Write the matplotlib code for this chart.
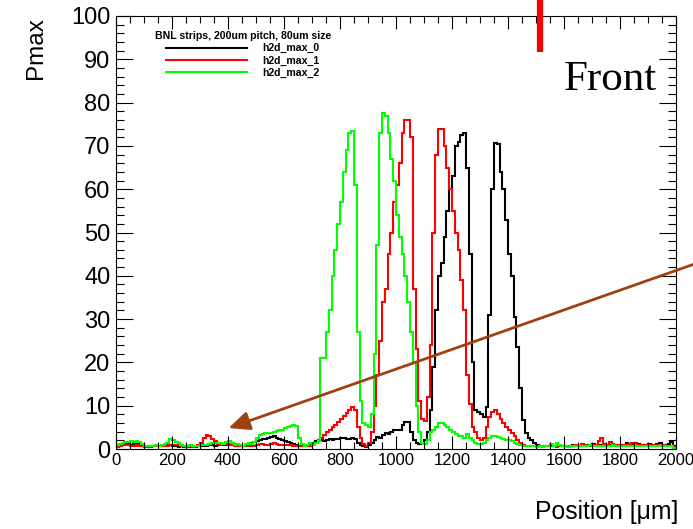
import numpy as np
import matplotlib
matplotlib.use('Agg')
import matplotlib.pyplot as plt
from matplotlib.lines import Line2D
from matplotlib.patches import FancyArrowPatch
from matplotlib.ticker import MultipleLocator

# histogram binning: 200 bins of 10 um
bin_edges = np.arange(0, 2001, 10)

h2d_max_0 = [
    0.5, 0.8, 1.2, 1.3, 1.2, 1.0, 1.2, 1.5, 1.2, 0.8,
    0.5, 0.6, 0.5, 0.6, 0.7, 0.8, 0.6, 0.9, 1.0, 0.9,
    0.8, 0.6, 0.5, 0.6, 0.5, 0.4, 0.5, 0.6, 0.5, 0.6,
    0.7, 0.6, 0.8, 0.9, 1.0, 0.8, 1.0, 1.2, 1.0, 0.9,
    1.1, 1.3, 1.0, 0.8, 0.6, 0.7, 0.8, 1.0, 1.3, 1.6,
    1.8, 2.0, 2.2, 2.4, 2.6, 2.8, 3.0, 2.5, 2.2, 2.0,
    1.8, 1.6, 1.5, 1.2, 1.0, 0.8, 0.6, 0.6, 0.8, 1.0,
    1.5, 1.8, 2.0, 2.1, 1.8, 2.0, 2.2, 2.0, 2.3, 2.4,
    2.5, 2.6, 2.4, 2.2, 2.5, 2.2, 1.5, 1.0, 0.6, 0.5,
    1.0, 1.4, 2.0, 2.8, 2.5, 3.2, 3.8, 3.5, 4.0, 4.4,
    4.4, 4.5, 5.5, 6.2, 6.2, 4.0, 2.0, 1.4, 1.2, 1.4,
    2.0, 4.0, 9.0, 19.0, 32.0, 40.0, 43.0, 49.0, 55.0, 60.0,
    63.0, 70.0, 71.0, 72.5, 73.0, 65.0, 45.0, 20.0, 9.0, 8.5,
    8.0, 7.5, 9.7, 31.0, 60.0, 70.7, 70.5, 64.0, 60.0, 53.0,
    45.0, 40.0, 30.5, 23.6, 14.0, 6.7, 3.7, 2.5, 2.0, 1.5,
    1.0, 0.8, 0.7, 0.6, 0.7, 0.8, 0.6, 0.7, 0.9, 0.8,
    0.7, 0.6, 0.8, 0.9, 0.7, 0.6, 0.8, 1.0, 0.9, 0.7,
    1.2, 1.0, 0.8, 0.9, 1.1, 0.8, 0.9, 1.2, 1.0, 0.8,
    0.9, 1.0, 1.3, 1.1, 1.2, 1.4, 1.1, 1.0, 0.9, 1.0,
    1.2, 1.0, 0.9, 1.1, 1.3, 1.0, 0.9, 1.2, 1.6, 0.8,
]

h2d_max_1 = [
    0.5, 0.8, 1.0, 0.9, 1.0, 0.8, 0.7, 1.0, 0.8, 0.6,
    0.5, 0.5, 0.6, 0.8, 0.7, 0.6, 0.8, 0.9, 0.8, 0.9,
    0.9, 1.0, 1.1, 0.8, 0.6, 0.5, 0.6, 0.5, 0.7, 0.9,
    1.5, 2.5, 3.2, 3.0, 2.2, 1.8, 1.2, 1.0, 1.2, 1.1,
    1.0, 0.9, 0.7, 0.6, 0.7, 0.8, 0.9, 0.7, 0.6, 0.8,
    1.0, 1.2, 1.1, 1.0, 1.0, 1.2, 1.3, 1.1, 1.0, 0.9,
    1.0, 1.0, 0.9, 0.8, 0.7, 0.6, 0.8, 0.7, 0.6, 0.8,
    1.0, 1.5, 2.0, 2.6, 3.2, 3.9, 4.4, 5.0, 5.5, 6.3,
    7.0, 7.6, 8.4, 9.0, 9.7, 9.0, 5.0, 2.5, 1.2, 0.8,
    1.5, 4.0, 10.0, 17.0, 25.0, 34.0, 37.0, 45.0, 50.0, 57.0,
    61.0, 66.0, 73.0, 76.0, 76.0, 72.0, 37.0, 23.0, 11.0, 7.0,
    6.5, 12.0, 24.0, 50.0, 68.0, 74.0, 74.0, 70.0, 65.0, 60.0,
    55.0, 50.0, 46.0, 39.0, 32.0, 17.0, 10.5, 5.0, 4.0, 2.5,
    2.0, 2.5, 5.0, 7.5, 8.5, 9.0, 8.0, 7.0, 6.0, 5.0,
    4.3, 3.7, 3.0, 2.0, 1.5, 1.0, 0.8, 0.7, 0.6, 0.6,
    0.5, 0.6, 0.5, 0.7, 0.6, 0.8, 0.6, 0.5, 0.7, 0.6,
    0.7, 0.8, 0.6, 0.7, 0.9, 0.8, 1.2, 1.0, 0.8, 0.9,
    1.0, 0.9, 1.8, 2.5, 1.2, 1.0, 1.6, 1.2, 0.9, 1.0,
    0.8, 0.9, 1.0, 1.2, 1.5, 1.5, 1.0, 0.9, 0.8, 1.0,
    0.9, 0.8, 1.0, 0.9, 0.8, 0.9, 0.7, 0.8, 0.6, 0.5,
]

h2d_max_2 = [
    1.0, 1.2, 1.5, 1.6, 1.6, 1.8, 1.7, 1.8, 1.6, 1.2,
    0.8, 0.6, 0.7, 0.8, 0.9, 0.8, 1.0, 1.2, 1.5, 2.2,
    2.0, 1.6, 1.4, 1.0, 0.8, 0.7, 0.9, 0.7, 0.6, 0.8,
    0.9, 1.0, 0.9, 1.2, 1.5, 1.3, 1.4, 1.5, 1.2, 1.6,
    1.8, 1.3, 1.0, 1.2, 0.9, 0.8, 1.1, 1.4, 1.2, 1.6,
    2.5, 3.3, 3.5, 3.6, 3.7, 3.8, 3.9, 4.2, 4.3, 4.5,
    4.8, 5.0, 5.3, 5.5, 5.4, 2.5, 1.2, 0.8, 1.0, 1.5,
    1.0, 1.5, 1.8, 21.0, 21.0, 27.0, 32.0, 40.0, 46.0, 52.0,
    57.0, 64.0, 69.0, 73.0, 73.5, 61.0, 27.0, 11.0, 6.0, 5.5,
    5.0, 8.0, 22.0, 47.0, 73.0, 77.5, 77.0, 73.0, 67.0, 62.0,
    54.0, 49.0, 45.0, 40.0, 34.0, 27.0, 20.0, 10.0, 4.0, 1.5,
    1.2, 2.0, 4.0, 4.5, 5.0, 6.0, 6.0, 5.5, 5.0, 4.5,
    4.0, 3.5, 3.0, 3.0, 2.5, 3.5, 2.5, 2.0, 1.5, 1.2,
    1.2, 1.5, 2.0, 2.5, 3.0, 3.0, 2.8, 2.5, 2.2, 2.0,
    2.0, 1.8, 1.5, 1.2, 1.0, 0.8, 0.8, 0.7, 0.6, 0.6,
    0.5, 0.6, 0.5, 0.7, 0.8, 1.2, 0.8, 1.5, 1.0, 0.7,
    0.6, 0.5, 0.6, 0.7, 0.6, 0.8, 0.7, 0.6, 0.7, 0.9,
    0.8, 0.7, 0.6, 0.8, 0.7, 0.6, 0.8, 0.9, 0.7, 0.6,
    0.7, 0.8, 0.6, 0.7, 0.8, 0.6, 0.7, 0.8, 0.7, 0.6,
    0.7, 0.6, 0.8, 0.7, 0.6, 0.7, 0.8, 0.7, 0.6, 0.3,
]

series = [('h2d_max_0', h2d_max_0, 'black'),
          ('h2d_max_1', h2d_max_1, '#ff0000'),
          ('h2d_max_2', h2d_max_2, '#00ff00')]

plt.rcParams['font.family'] = ['Liberation Sans', 'DejaVu Sans']

fig = plt.figure(figsize=(6.93, 5.29), dpi=100)
ax = fig.add_axes([116 / 693, 80 / 529, 560 / 693, 433 / 529])

for name, vals, col in series:
    ax.stairs(vals, bin_edges, color=col, linewidth=1.5)

ax.set_xlim(0, 2000)
ax.set_ylim(0, 100)
ax.xaxis.set_major_locator(MultipleLocator(200))
ax.xaxis.set_minor_locator(MultipleLocator(50))
ax.yaxis.set_major_locator(MultipleLocator(10))
ax.yaxis.set_minor_locator(MultipleLocator(2))
ax.tick_params(axis='x', which='both', direction='in', top=True, labelsize=12, pad=3)
ax.tick_params(axis='y', which='both', direction='in', right=True, labelsize=17, pad=4)
ax.tick_params(axis='x', which='major', length=9.5, width=0.8)
ax.tick_params(axis='x', which='minor', length=5, width=0.8)
ax.tick_params(axis='y', which='major', length=12, width=0.8)
ax.tick_params(axis='y', which='minor', length=6, width=0.8)
for sp in ax.spines.values():
    sp.set_linewidth(0.8)

fig.text(36 / 693, 1 - 17 / 529, 'Pmax', rotation=90, ha='center', va='top', fontsize=17.5)
fig.text(678 / 693, 1 - 512 / 529, 'Position [\u03bcm]', ha='right', va='center', fontsize=17.8)

handles = [Line2D([], [], color=c, linewidth=1.5) for _, _, c in series]
leg = ax.legend(handles, [n for n, _, _ in series], title='BNL strips, 200um pitch, 80um size',
                loc='upper left', bbox_to_anchor=(155 / 693, 1 - 31 / 529),
                bbox_transform=fig.transFigure, frameon=False,
                prop={'size': 7.6, 'weight': 'bold'},
                title_fontproperties={'size': 7.6, 'weight': 'bold'},
                handlelength=7.6, handletextpad=1.5, labelspacing=0.22,
                borderpad=0, borderaxespad=0)

fig.text(610 / 693, 1 - 90 / 529, 'Front', ha='center', va='baseline',
         fontsize=31, family='Liberation Serif')

# red marker bar at the top
fig.add_artist(Line2D([540 / 693, 540 / 693], [1.0, 1 - 52 / 529],
                      transform=fig.transFigure, color='#ff0000', linewidth=4.5,
                      solid_capstyle='butt'))

# brown arrow
arr = FancyArrowPatch((720 / 693, 1 - 255 / 529), (226 / 693, 1 - 429 / 529),
                      transform=fig.transFigure, arrowstyle='-|>,head_length=8,head_width=3.6',
                      color='#a0400f', linewidth=2, mutation_scale=1.6)
fig.add_artist(arr)

plt.savefig('out.png', dpi=100)
